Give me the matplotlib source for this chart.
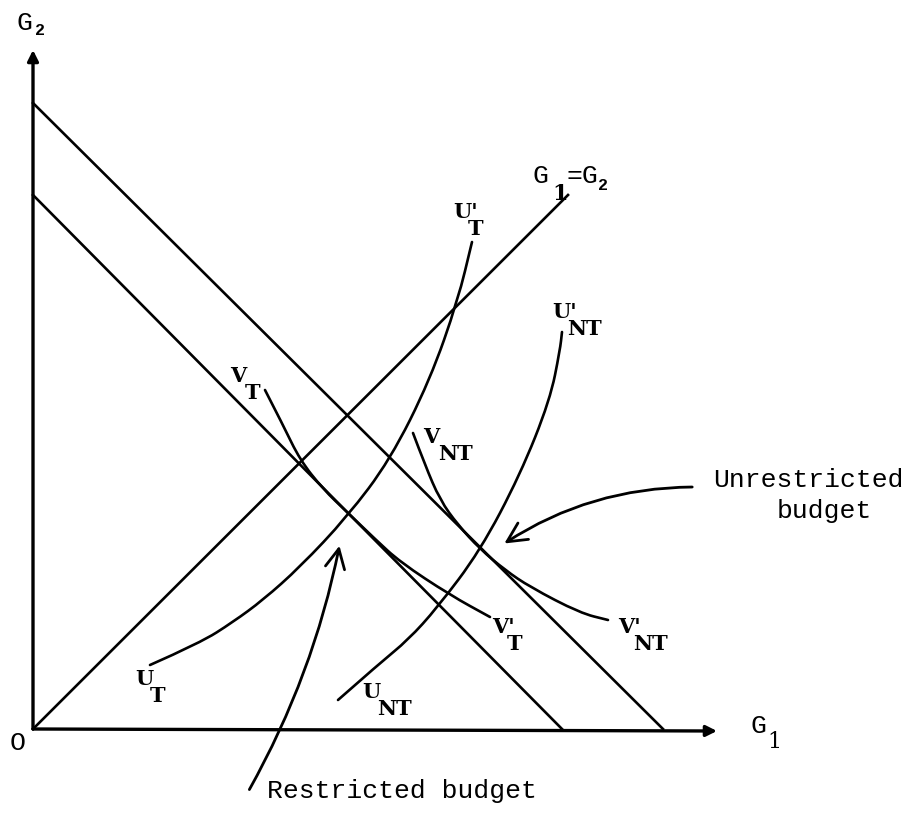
import matplotlib.pyplot as plt
from matplotlib.patches import FancyArrowPatch, PathPatch
from matplotlib.path import Path

# budget lines: (G2 intercept, G1 intercept)
outer_budget = [626, 630]
inner_budget = [534, 529]
diag_end = [535, 534]

# indifference curves, points (G1, G2)
ut_g1 = [117, 167, 200, 230, 267, 314, 357, 397, 425, 439]
ut_g2 = [64, 86, 107, 129, 162, 212, 269, 349, 429, 487]
unt_g1 = [305, 347, 375, 404, 447, 487, 517, 527, 529]
unt_g2 = [29, 66, 89, 121, 178, 254, 329, 379, 397]
vt_g1 = [232, 250, 267, 290, 314, 342, 367, 417, 457]
vt_g2 = [339, 304, 269, 240, 217, 190, 167, 134, 112]
vnt_g1 = [380, 392, 407, 425, 447, 472, 497, 547, 575]
vnt_g2 = [296, 264, 229, 204, 180, 159, 142, 116, 109]

fig = plt.figure(figsize=(9.13, 8.15), dpi=100)
ax = fig.add_axes([0, 0, 1, 1])
ax.set_xlim(-33, 880)
ax.set_ylim(-86, 729)
ax.axis('off')

lw = 1.9


def smooth_curve(xs, ys):
    # quadratic spline through the read points, drawn as a matplotlib path
    pts = list(zip(xs, ys))
    verts = [pts[0]]
    codes = [Path.MOVETO]
    for i in range(1, len(pts) - 1):
        mid = ((pts[i][0] + pts[i + 1][0]) / 2, (pts[i][1] + pts[i + 1][1]) / 2)
        verts += [pts[i], mid]
        codes += [Path.CURVE3, Path.CURVE3]
    verts.append(pts[-1])
    codes.append(Path.LINETO)
    ax.add_patch(PathPatch(Path(verts, codes), fill=False, lw=lw, edgecolor='k',
                           capstyle='round'))


# axes with arrows
ax.annotate('', xy=(0, 679), xytext=(0, 0),
            arrowprops=dict(arrowstyle='-|>', lw=2.4, color='k', mutation_scale=16,
                            shrinkA=0, shrinkB=0))
ax.annotate('', xy=(684, -2), xytext=(0, 0),
            arrowprops=dict(arrowstyle='-|>', lw=2.4, color='k', mutation_scale=16,
                            shrinkA=0, shrinkB=0))

ax.plot([0, outer_budget[1]], [outer_budget[0], 0], color='k', lw=lw)
ax.plot([0, inner_budget[1]], [inner_budget[0], 0], color='k', lw=lw)
ax.plot([0, diag_end[0]], [0, diag_end[1]], color='k', lw=lw)

for xs, ys in [(ut_g1, ut_g2), (unt_g1, unt_g2), (vt_g1, vt_g2), (vnt_g1, vnt_g2)]:
    smooth_curve(xs, ys)

# pointer arrows
ax.add_patch(FancyArrowPatch((215, -63), (307, 186), connectionstyle='arc3,rad=0.08',
                             arrowstyle='->,head_length=0.7,head_width=0.35',
                             mutation_scale=20, lw=2.0, color='k'))
ax.add_patch(FancyArrowPatch((662, 242), (469, 184), connectionstyle='arc3,rad=0.15',
                             arrowstyle='->,head_length=0.7,head_width=0.35',
                             mutation_scale=20, lw=2.0, color='k'))

serif = dict(family='DejaVu Serif', fontsize=15, weight='bold', color='k')
mono = dict(family='Liberation Mono', fontsize=19, color='k')


def curve_label(x, y, main, sub):
    ax.text(x, y, main, ha='left', va='baseline', **serif)
    ax.text(x + 15, y - 17, sub, ha='left', va='baseline', **serif)


curve_label(102, 44, 'U', 'T')
curve_label(329, 31, 'U', 'NT')
curve_label(197, 347, 'V', 'T')
curve_label(390, 286, 'V', 'NT')
curve_label(459, 96, "V'", 'T')
curve_label(585, 96, "V'", 'NT')
curve_label(420, 511, "U'", 'T')
curve_label(519, 411, "U'", 'NT')

# axis labels
ax.text(-16, 699, 'G', ha='left', va='baseline', **mono)
ax.text(2, 694, '2', ha='left', va='baseline', family='Liberation Mono', fontsize=12, weight='bold')
ax.text(717, -4, 'G', ha='left', va='baseline', **mono)
ax.text(734, -19, '1', ha='left', va='baseline', family='DejaVu Serif', fontsize=16)
ax.text(-23, -21, 'O', ha='left', va='baseline', **mono)

ax.text(500, 546, 'G', ha='left', va='baseline', **mono)
ax.text(519, 529, '1', ha='left', va='baseline', family='DejaVu Serif', fontsize=16, weight='bold')
ax.text(534, 546, '=G', ha='left', va='baseline', **mono)
ax.text(565, 539, '2', ha='left', va='baseline', family='Liberation Mono', fontsize=12, weight='bold')

ax.text(775, 249, 'Unrestricted', ha='center', va='center', **mono)
ax.text(791, 218, 'budget', ha='center', va='center', **mono)
ax.text(234, -69, 'Restricted budget', ha='left', va='baseline', **mono)

fig.savefig('out.png', dpi=100)
